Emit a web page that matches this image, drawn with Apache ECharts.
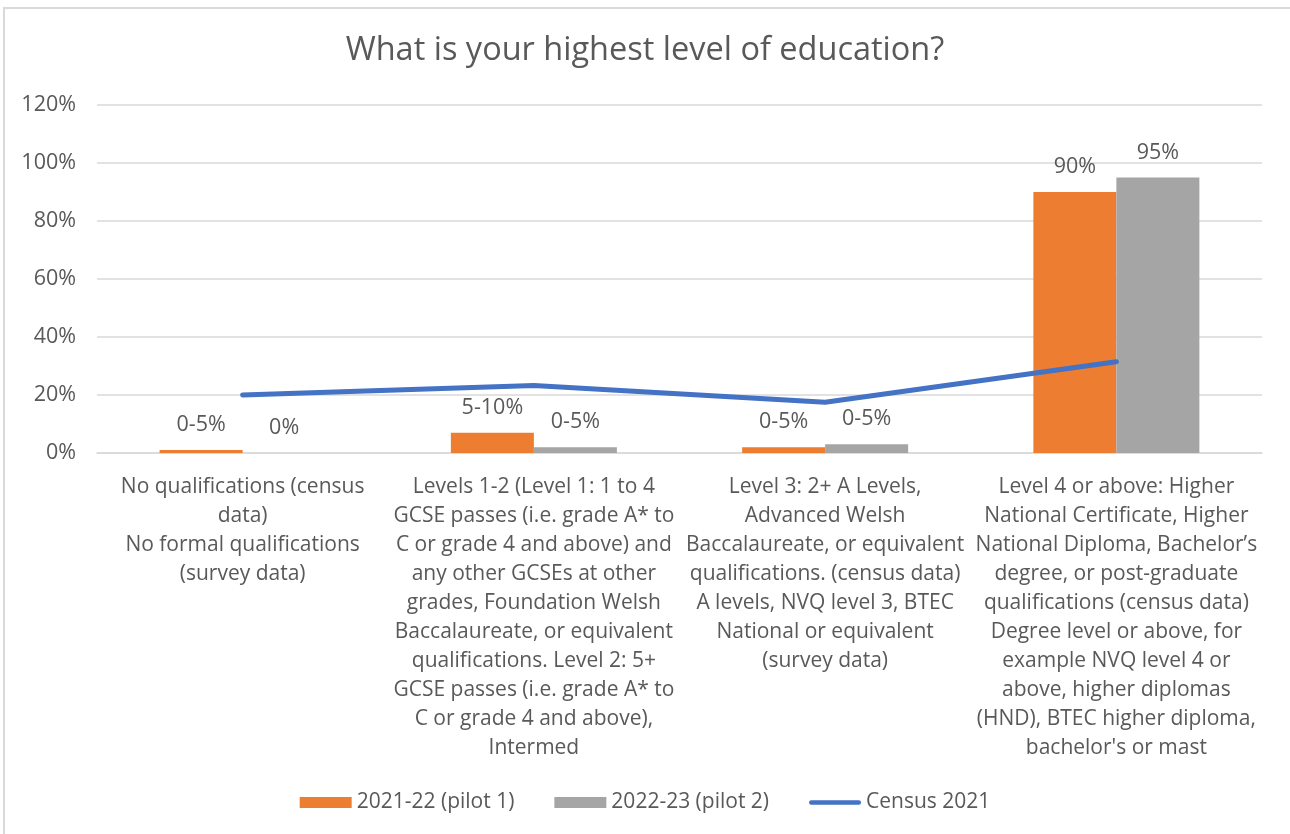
<!DOCTYPE html>
<html>
<head>
<meta charset="utf-8">
<script src="https://cdn.jsdelivr.net/npm/echarts@6/dist/echarts.min.js"></script>
<style>
  html, body { margin: 0; padding: 0; background: #fff; }
  #frame { position: absolute; left: 3px; top: 7px; width: 1400px; height: 900px; border-left: 2px solid #d9d9d9; border-top: 2px solid #d9d9d9; box-sizing: border-box; }
  #chart { position: absolute; left: 0; top: 0; width: 1290px; height: 834px; }
</style>
</head>
<body>
<div id="frame"></div>
<div id="chart"></div>
<script>
const categories = [
  "No qualifications (census\ndata)\nNo formal qualifications\n(survey data)",
  "Levels 1-2 (Level 1: 1 to 4\nGCSE passes (i.e. grade A* to\nC or grade 4 and above) and\nany other GCSEs at other\ngrades, Foundation Welsh\nBaccalaureate, or equivalent\nqualifications. Level 2: 5+\nGCSE passes (i.e. grade A* to\nC or grade 4 and above),\nIntermed",
  "Level 3: 2+ A Levels,\nAdvanced Welsh\nBaccalaureate, or equivalent\nqualifications. (census data)\nA levels, NVQ level 3, BTEC\nNational or equivalent\n(survey data)",
  "Level 4 or above: Higher\nNational Certificate, Higher\nNational Diploma, Bachelor\u2019s\ndegree, or post-graduate\nqualifications (census data)\nDegree level or above, for\nexample NVQ level 4 or\nabove, higher diplomas\n(HND), BTEC higher diploma,\nbachelor's or mast"
];
const seriesNames = ["2021-22 (pilot 1)", "2022-23 (pilot 2)", "Census 2021"];
const pilot1Values = [1, 7, 2, 90];
const pilot2Values = [0, 2, 3, 95];
const censusValues = [20, 23.3, 17.5, 31.5];
const pilot1Labels = ["0-5%", "5-10%", "0-5%", "90%"];
const pilot2Labels = ["0%", "0-5%", "0-5%", "95%"];
const yTicks = { min: 0, max: 120, interval: 20 };

const FONT = "'Open Sans', Lato, sans-serif";
const TXT = "#595959";

const chart = echarts.init(document.getElementById('chart'), null, { renderer: 'canvas' });
chart.setOption({
  backgroundColor: 'transparent',
  animation: false,
  textStyle: { fontFamily: FONT, color: TXT },
  title: {
    text: "What is your highest level of education?",
    left: 'center',
    top: 29,
    textStyle: { fontFamily: FONT, fontSize: 32.5, fontWeight: 'normal', color: TXT }
  },
  legend: {
    top: 787,
    left: 'center',
    itemGap: 40,
    itemWidth: 52,
    itemHeight: 11,
    textStyle: { fontFamily: FONT, fontSize: 21, color: TXT },
    data: [
      { name: seriesNames[0], icon: 'rect' },
      { name: seriesNames[1], icon: 'rect' },
      { name: seriesNames[2], icon: 'path://M2.5,0 L55.5,0 A2.5,2.5 0 0 1 55.5,5 L2.5,5 A2.5,2.5 0 0 1 2.5,0 Z' }
    ]
  },
  grid: { left: 97, right: 28, top: 105, bottom: 381, containLabel: false },
  xAxis: {
    type: 'category',
    data: categories,
    axisLine: { show: true, lineStyle: { color: '#d9d9d9', width: 1.5 } },
    axisTick: { show: false },
    axisLabel: {
      interval: 0,
      margin: 20,
      fontFamily: FONT,
      fontSize: 21,
      lineHeight: 29,
      color: TXT,
      align: 'center'
    }
  },
  yAxis: {
    type: 'value',
    min: yTicks.min,
    max: yTicks.max,
    interval: yTicks.interval,
    axisLine: { show: false },
    axisTick: { show: false },
    splitLine: { lineStyle: { color: '#d9d9d9', width: 1.5 } },
    axisLabel: { formatter: '{value}%', margin: 21, fontFamily: FONT, fontSize: 21.5, color: TXT }
  },
  series: [
    {
      name: seriesNames[0],
      type: 'bar',
      data: pilot1Values,
      barGap: '0%',
      barCategoryGap: '43%',
      itemStyle: { color: '#ED7D31' },
      label: {
        show: true, position: 'top', distance: 14,
        fontFamily: FONT, fontSize: 21.5, color: TXT,
        formatter: p => pilot1Labels[p.dataIndex]
      }
    },
    {
      name: seriesNames[1],
      type: 'bar',
      data: pilot2Values,
      barGap: '0%',
      barCategoryGap: '43%',
      itemStyle: { color: '#A5A5A5' },
      label: {
        show: true, position: 'top', distance: 14,
        fontFamily: FONT, fontSize: 21.5, color: TXT,
        formatter: p => pilot2Labels[p.dataIndex]
      }
    },
    {
      name: seriesNames[2],
      type: 'line',
      data: censusValues,
      symbol: 'none',
      lineStyle: { color: '#4472C4', width: 5, cap: 'round', join: 'round' },
      itemStyle: { color: '#4472C4' },
      z: 5
    }
  ]
});
</script>
</body>
</html>
